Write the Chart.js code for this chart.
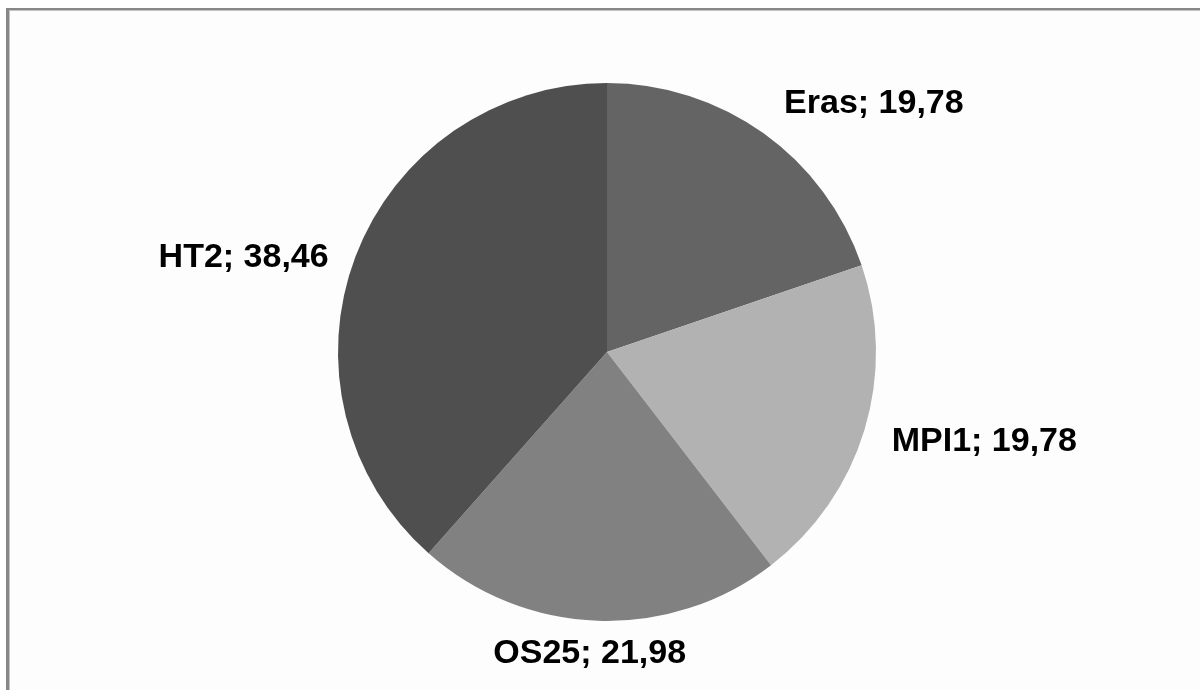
<!DOCTYPE html>
<html>
<head>
<meta charset="utf-8">
<script src="https://cdn.jsdelivr.net/npm/chart.js@4.4.1/dist/chart.umd.min.js"></script>
<style>
  html, body { margin: 0; padding: 0; background: #fff; }
  #wrap { position: relative; width: 1200px; height: 690px; overflow: hidden; background: #fff; }
  /* chart frame, only top and left edges fall inside the page */
  #frame {
    position: absolute; left: 6px; top: 8px; width: 1300px; height: 800px;
    border-top: 2px solid #878787; border-left: 3px solid #878787;
    background: #fdfdfd; box-sizing: border-box;
  }
  #frame::before {
    content: ''; position: absolute; left: 0; top: 0; right: 0; bottom: 0;
    border-top: 1px solid #c4c4c4; border-left: 1px solid #c4c4c4;
  }
  canvas { position: absolute; left: 0; top: 0; }
</style>
</head>
<body>
<div id="wrap">
  <div id="frame"></div>
  <canvas id="pie" width="1200" height="690"></canvas>
</div>
<script>
const labels = ['Eras', 'MPI1', 'OS25', 'HT2'];
const values = [19.78, 19.78, 21.98, 38.46];
const sliceColors = ['#646464', '#b2b2b2', '#818181', '#4f4f4f'];

const fmt = v => v.toFixed(2).replace('.', ',');

// outside labels "Name; value", pushed away from the slice in its direction
const outsideLabels = {
  id: 'outsideLabels',
  afterDatasetsDraw(chart) {
    const ctx = chart.ctx;
    const meta = chart.getDatasetMeta(0);
    ctx.save();
    ctx.font = 'bold 34px "Liberation Sans", Arial, sans-serif';
    ctx.fillStyle = '#000';
    ctx.textAlign = 'center';
    ctx.textBaseline = 'middle';
    meta.data.forEach((arc, i) => {
      const { x, y, startAngle, endAngle, outerRadius } = arc.getProps(['x', 'y', 'startAngle', 'endAngle', 'outerRadius'], true);
      const mid = (startAngle + endAngle) / 2;
      const sin = Math.cos(mid);   // horizontal component
      const cos = -Math.sin(mid);  // upward component
      const text = labels[i] + '; ' + fmt(values[i]);
      const w = ctx.measureText(text).width;
      const r = outerRadius + 18;
      const ax = x + r * sin;
      const ay = y - r * cos;
      const fx = Math.max(-1, Math.min(1, sin * 2));
      const fy = Math.sign(cos) * Math.min(1, Math.max(0, Math.abs(cos) - 0.5) * 2);
      const ky = fy > 0 ? 35 : 8;
      ctx.fillText(text, ax + fx * (w / 2 + 10), ay - fy * ky + 7);
    });
    ctx.restore();
  }
};

new Chart(document.getElementById('pie'), {
  type: 'pie',
  data: {
    labels,
    datasets: [{
      data: values,
      backgroundColor: sliceColors,
      borderWidth: 0
    }]
  },
  options: {
    responsive: false,
    animation: false,
    events: [],
    layout: { padding: { left: 337, right: 323, top: 83, bottom: 69 } },
    plugins: {
      legend: { display: false },
      tooltip: { enabled: false }
    }
  },
  plugins: [outsideLabels]
});
</script>
</body>
</html>
